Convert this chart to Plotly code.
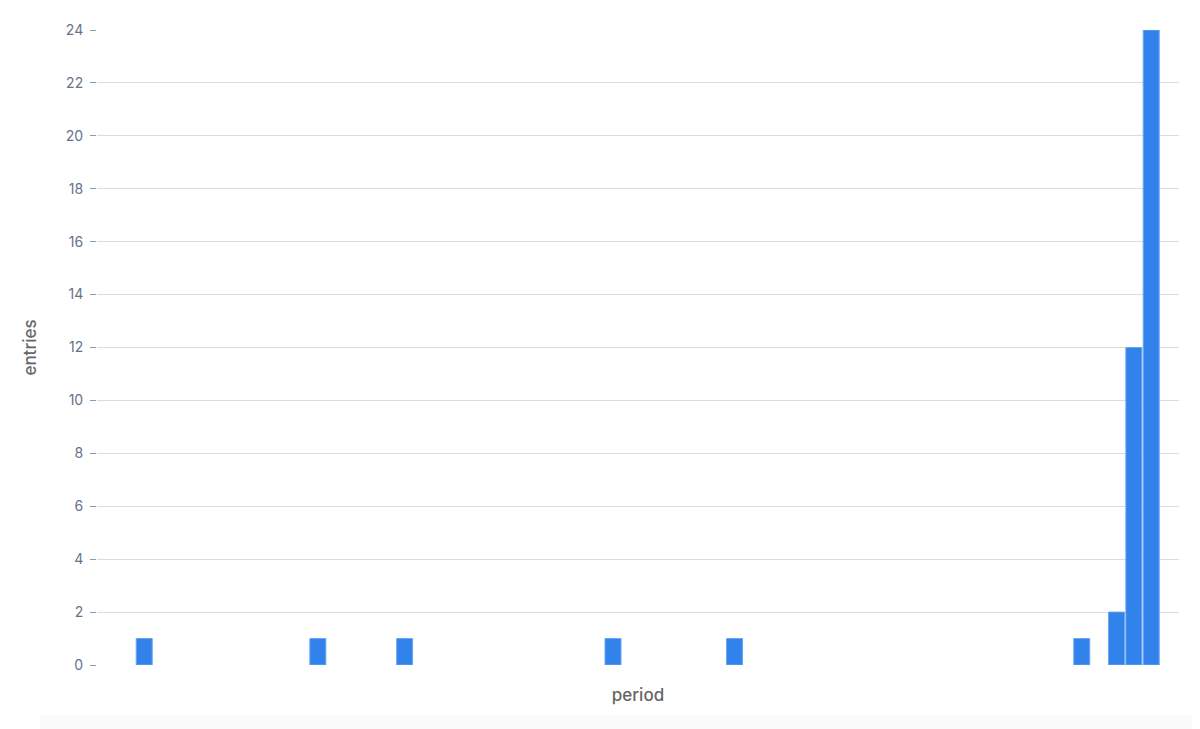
import plotly.graph_objects as go

# period slot index (one slot per period) and number of entries
periods = [0, 10, 15, 27, 34, 54, 56, 57, 58]
entries = [1, 1, 1, 1, 1, 1, 2, 12, 24]
y_ticks = [0, 2, 4, 6, 8, 10, 12, 14, 16, 18, 20, 22, 24]

fig = go.Figure(go.Bar(
    x=periods,
    y=entries,
    width=0.92,
    marker=dict(color="#3182ea", line=dict(color="#6aa6f0", width=1)),
))

# page body adds an 8px margin, so the figure is a bit smaller
W, H = 1192, 721
left, right, top, bottom = 89, 21, 22, 64
pw = W - left - right
ph = H - top - bottom

fig.update_layout(
    width=W,
    height=H,
    margin=dict(l=left, r=right, t=top, b=bottom),
    plot_bgcolor="white",
    paper_bgcolor="white",
    showlegend=False,
    font=dict(family="Inter, Roboto, sans-serif", color="#64748b", size=14),
    shapes=[
        # very faint grey band at the bottom of the page
        dict(type="rect", xref="paper", yref="paper",
             x0=-(left - 32) / pw, x1=(W - left + 8) / pw,
             y0=-(bottom + 8) / ph, y1=-(707 - top - ph) / ph,
             fillcolor="#fafafa", line=dict(width=0), layer="below"),
    ],
)

fig.update_xaxes(
    range=[-2.72, 59.6],
    showticklabels=False,
    showgrid=False,
    zeroline=False,
    ticks="",
    title=dict(text="period",
               font=dict(size=17, color="#666666", family="Inter, sans-serif", weight=500),
               standoff=24),
)

fig.update_yaxes(
    range=[0, 24],
    tickvals=y_ticks,
    showgrid=True,
    gridcolor="#dcdcdc",
    gridwidth=1,
    zeroline=False,
    ticks="outside",
    ticklen=6,
    tickcolor="#8a9bb0",
    ticklabelstandoff=4,
    tickfont=dict(size=14, color="#64748b"),
    title=dict(text="entries",
               font=dict(size=17, color="#666666", family="Inter, sans-serif", weight=500),
               standoff=24),
)

fig.write_html("out.html")
